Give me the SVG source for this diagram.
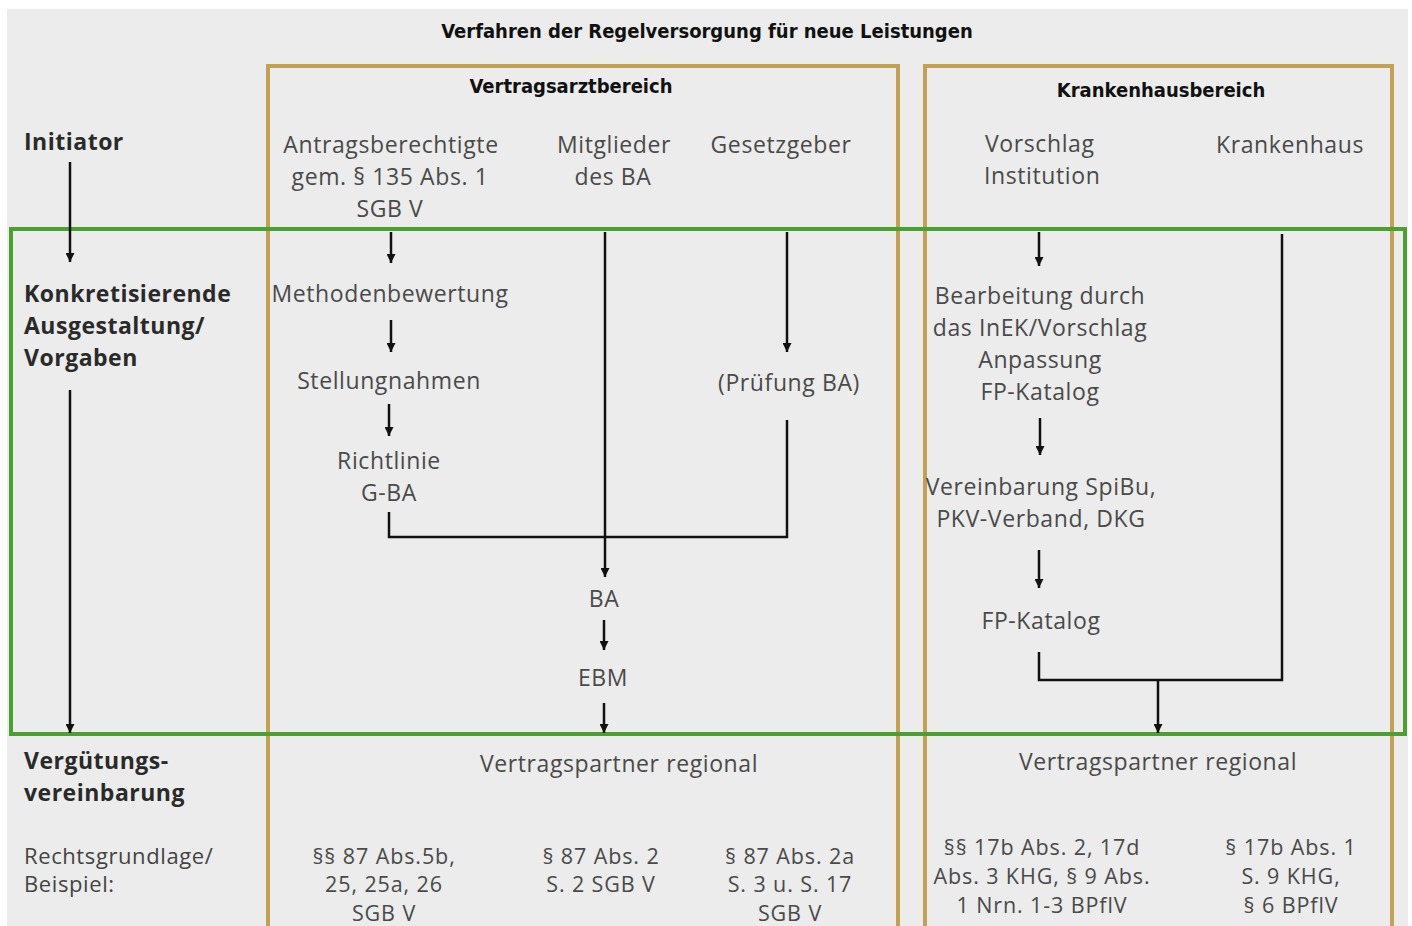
<svg xmlns="http://www.w3.org/2000/svg" width="1412" height="926" viewBox="0 0 1412 926">
<defs>
<marker id="ah" viewBox="0 0 10 10" refX="10" refY="5" markerWidth="11" markerHeight="9" markerUnits="userSpaceOnUse" orient="auto">
<path d="M0,0 L10,5 L0,10 z" fill="#111"/>
</marker>
<style>
.bg{fill:#ebeceb}
.gold{fill:none;stroke:#c3a153;stroke-width:4}
.green{fill:none;stroke:#48a22d;stroke-width:4}
.hd{font-family:'DejaVu Sans Condensed','DejaVu Sans',sans-serif;font-stretch:condensed;font-weight:bold;font-size:20px;fill:#111;text-anchor:middle}
.lb{font-family:'Open Sans','Liberation Sans',sans-serif;font-weight:bold;font-size:23px;letter-spacing:0.5px;fill:#2a2a2a}
.lr{font-family:'Open Sans','Liberation Sans',sans-serif;font-size:22px;letter-spacing:0.6px;fill:#444}
.t{font-family:'Open Sans','Liberation Sans',sans-serif;font-size:23px;letter-spacing:0.6px;fill:#4a4a4a;text-anchor:middle}
.tl{font-family:'Open Sans','Liberation Sans',sans-serif;font-size:23px;letter-spacing:0.6px;fill:#4a4a4a}
.r{font-family:'Open Sans','Liberation Sans',sans-serif;font-size:21.5px;letter-spacing:0.9px;fill:#4a4a4a;text-anchor:middle}
.c{fill:none;stroke:#111;stroke-width:2.5}
.a{fill:none;stroke:#111;stroke-width:2.5;marker-end:url(#ah)}
</style>
</defs>
<rect x="0" y="0" width="1412" height="926" fill="#ffffff"/>
<rect class="bg" x="7" y="9" width="1401" height="917"/>
<text class="hd" x="707" y="38">Verfahren der Regelversorgung für neue Leistungen</text>

<g id="vertragsarztbereich">
<rect class="gold" x="268" y="66" width="630" height="880"/>
<text class="hd" x="571" y="93">Vertragsarztbereich</text>
</g>
<g id="krankenhausbereich">
<rect class="gold" x="925" y="66" width="467" height="880"/>
<text class="hd" x="1161" y="97">Krankenhausbereich</text>
</g>
<g id="konkretisierung-band">
<rect class="green" x="11" y="229" width="1394" height="505"/>
</g>

<g id="row-labels">
<text class="lb" x="24" y="150">Initiator</text>
<text class="lb" x="24" y="302">Konkretisierende</text>
<text class="lb" x="24" y="334">Ausgestaltung/</text>
<text class="lb" x="24" y="366">Vorgaben</text>
<text class="lb" x="24" y="769">Vergütungs-</text>
<text class="lb" x="24" y="801">vereinbarung</text>
<text class="lr" x="24" y="864">Rechtsgrundlage/</text>
<text class="lr" x="24" y="892">Beispiel:</text>
</g>

<g id="antragsberechtigte">
<text class="t" x="391" y="153">Antragsberechtigte</text>
<text class="t" x="390" y="185">gem. § 135 Abs. 1</text>
<text class="t" x="390" y="217">SGB V</text>
</g>
<g id="mitglieder">
<text class="t" x="614" y="153">Mitglieder</text>
<text class="t" x="613" y="185">des BA</text>
</g>
<g id="gesetzgeber"><text class="t" x="781" y="153">Gesetzgeber</text></g>
<g id="vorschlag-institution">
<text class="tl" x="985" y="152">Vorschlag</text>
<text class="tl" x="984" y="184">Institution</text>
</g>
<g id="krankenhaus"><text class="t" x="1290" y="153">Krankenhaus</text></g>

<g id="methodenbewertung"><text class="t" x="390" y="302">Methodenbewertung</text></g>
<g id="stellungnahmen"><text class="t" x="389" y="389">Stellungnahmen</text></g>
<g id="richtlinie">
<text class="t" x="389" y="469">Richtlinie</text>
<text class="t" x="389" y="501">G-BA</text>
</g>
<g id="pruefung"><text class="t" x="789" y="391">(Prüfung  BA)</text></g>
<g id="ba"><text class="t" x="604" y="607">BA</text></g>
<g id="ebm"><text class="t" x="603" y="686">EBM</text></g>

<g id="bearbeitung">
<text class="t" x="1040" y="304">Bearbeitung durch</text>
<text class="t" x="1040" y="336">das InEK/Vorschlag</text>
<text class="t" x="1040" y="368">Anpassung</text>
<text class="t" x="1040" y="400">FP-Katalog</text>
</g>
<g id="vereinbarung">
<text class="t" x="1041" y="495">Vereinbarung SpiBu,</text>
<text class="t" x="1041" y="527">PKV-Verband,  DKG</text>
</g>
<g id="fp-katalog"><text class="t" x="1041" y="629">FP-Katalog</text></g>

<g id="vertragspartner-1"><text class="t" x="619" y="772">Vertragspartner regional</text></g>
<g id="vertragspartner-2"><text class="t" x="1158" y="770">Vertragspartner regional</text></g>

<g id="recht-1">
<text class="r" x="384" y="864">§§ 87 Abs.5b,</text>
<text class="r" x="384" y="892">25, 25a, 26</text>
<text class="r" x="384" y="921">SGB V</text>
</g>
<g id="recht-2">
<text class="r" x="601" y="864">§ 87 Abs. 2</text>
<text class="r" x="601" y="892">S. 2 SGB V</text>
</g>
<g id="recht-3">
<text class="r" x="790" y="864">§ 87 Abs. 2a</text>
<text class="r" x="790" y="892">S. 3 u. S. 17</text>
<text class="r" x="790" y="921">SGB V</text>
</g>
<g id="recht-4">
<text class="r" x="1042" y="855">§§ 17b Abs. 2, 17d</text>
<text class="r" x="1042" y="884">Abs. 3 KHG, § 9 Abs.</text>
<text class="r" x="1042" y="913">1 Nrn. 1-3 BPflV</text>
</g>
<g id="recht-5">
<text class="r" x="1291" y="855">§ 17b Abs. 1</text>
<text class="r" x="1291" y="884">S. 9 KHG,</text>
<text class="r" x="1291" y="913">§ 6 BPflV</text>
</g>

<g id="connectors">
<line class="a" x1="70" y1="162" x2="70" y2="262"/>
<line class="a" x1="70" y1="390" x2="70" y2="733"/>
<line class="a" x1="391" y1="232" x2="391" y2="263"/>
<line class="a" x1="391" y1="320" x2="391" y2="352"/>
<line class="a" x1="389" y1="404" x2="389" y2="436"/>
<polyline class="c" points="389,512 389,537 787,537 787,420"/>
<line class="a" x1="605" y1="232" x2="605" y2="577"/>
<line class="a" x1="604" y1="620" x2="604" y2="650"/>
<line class="a" x1="604" y1="703" x2="604" y2="733"/>
<line class="a" x1="787" y1="232" x2="787" y2="352"/>
<line class="a" x1="1039" y1="232" x2="1039" y2="266"/>
<line class="a" x1="1040" y1="418" x2="1040" y2="455"/>
<line class="a" x1="1039" y1="550" x2="1039" y2="588"/>
<polyline class="c" points="1039,652 1039,680 1282,680 1282,234"/>
<line class="a" x1="1158" y1="680" x2="1158" y2="733"/>
</g>
</svg>
